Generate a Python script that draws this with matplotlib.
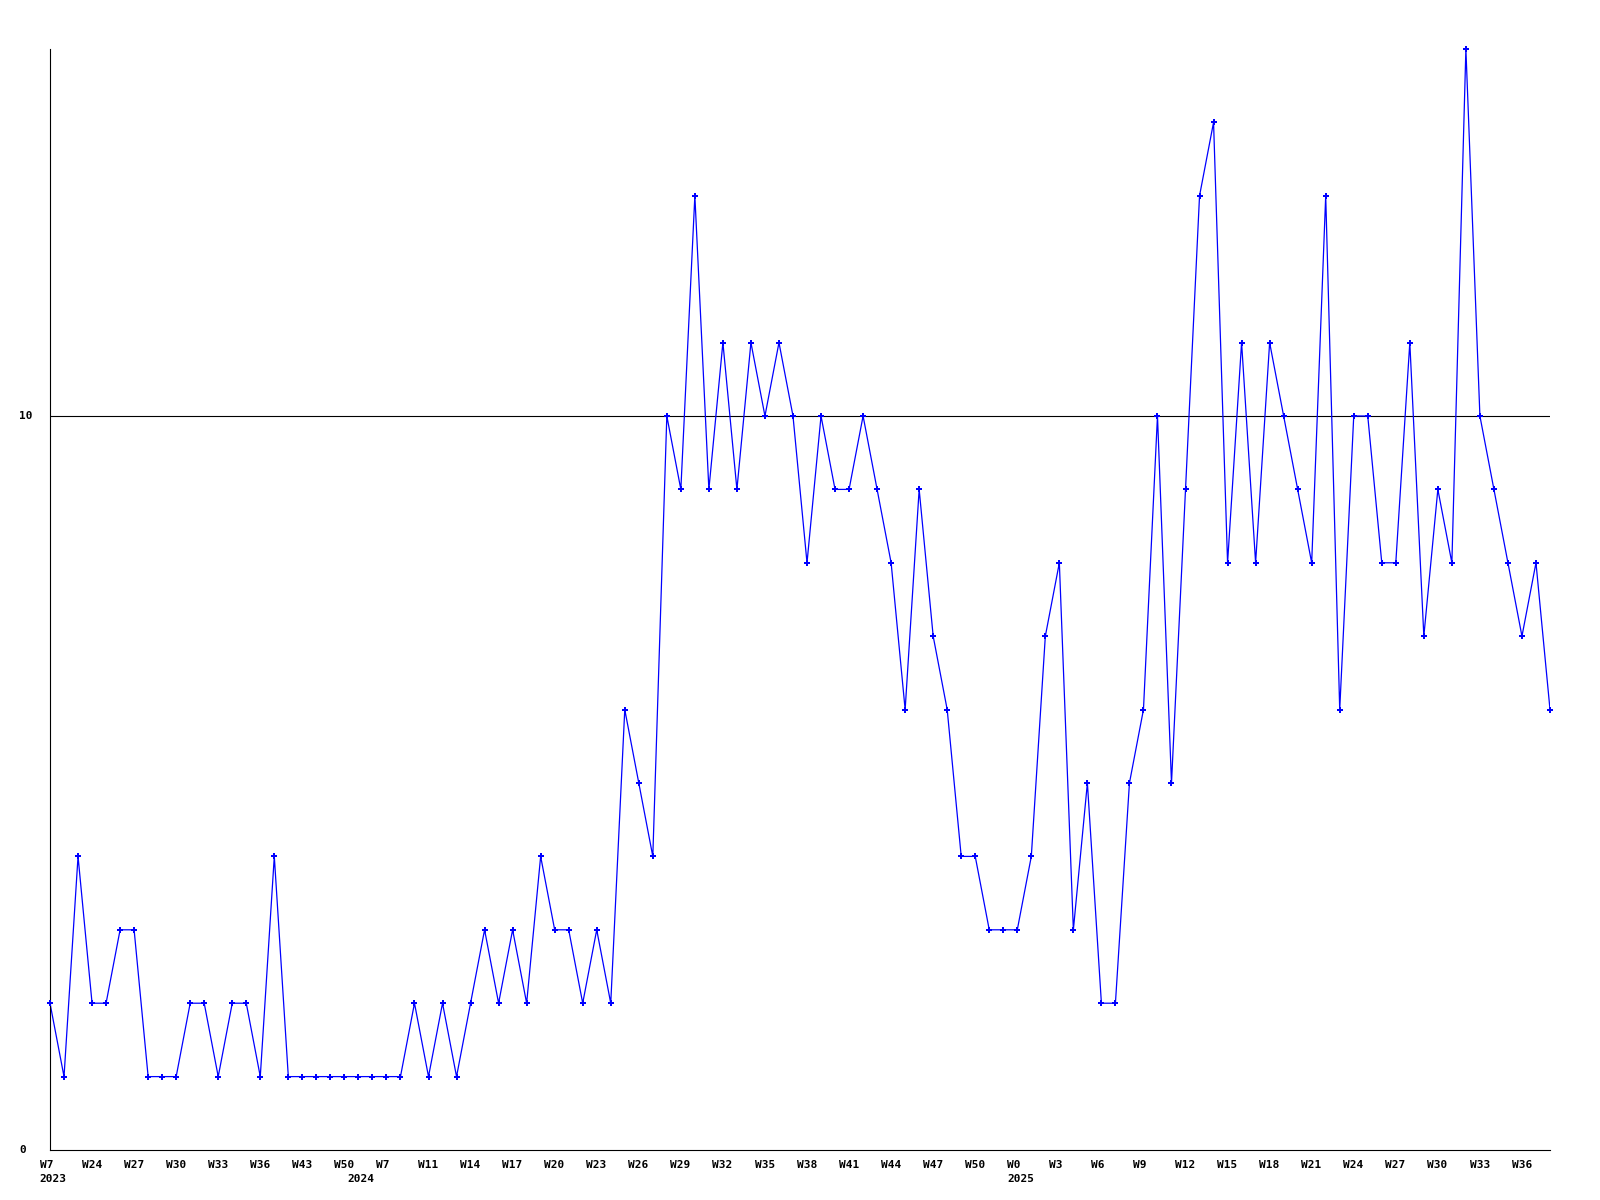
import matplotlib
import matplotlib.pyplot as plt

matplotlib.use('Agg')

# weekly values, one per week from W7 2023 to the last week shown
values = [2, 1, 4, 2, 2, 3, 3, 1, 1, 1, 2, 2, 1, 2, 2, 1, 4,
          1, 1, 1, 1, 1, 1, 1, 1, 1,
          2, 1, 2, 1, 2, 3, 2, 3, 2, 4, 3, 3, 2, 3, 2, 6, 5, 4,
          10, 9, 13, 9, 11, 9, 11, 10, 11, 10, 8, 10, 9, 9, 10, 9, 8, 6,
          9, 7, 6, 4, 4, 3, 3, 3, 4, 7, 8, 3, 5, 2, 2, 5, 6, 10, 5, 9,
          13, 14, 8, 11, 8, 11, 10, 9, 8, 13, 6, 10, 10, 8, 8, 11, 7, 9,
          8, 15, 10, 9, 8, 7, 8, 6]

# one label every third week
week_labels = ['W7', 'W24', 'W27', 'W30', 'W33', 'W36', 'W43', 'W50', 'W7',
               'W11', 'W14', 'W17', 'W20', 'W23', 'W26', 'W29', 'W32', 'W35',
               'W38', 'W41', 'W44', 'W47', 'W50', 'W0', 'W3', 'W6', 'W9',
               'W12', 'W15', 'W18', 'W21', 'W24', 'W27', 'W30', 'W33', 'W36']
year_labels = {0: '2023', 8: '2024', 23: '2025'}
y_labels = [0, 10]
ref_level = 10

fig = plt.figure(figsize=(16, 12), dpi=100)
ax = fig.add_axes([50 / 1600, 50 / 1200, 1500 / 1600, 1101 / 1200])

x = list(range(len(values)))
ax.axhline(ref_level, color='black', lw=0.8, zorder=1)
ax.plot(x, values, color='#0000ff', lw=0.9, zorder=2)
ax.plot(x, values, ls='none', color='#0000ff', marker='P', ms=4.5, mew=0,
        zorder=3, clip_on=False)

ax.set_xlim(0, len(values) - 1)
ax.set_ylim(0, 15)
ax.set_xticks([])
ax.set_yticks([])
for side in ['top', 'right']:
    ax.spines[side].set_visible(False)
for side in ['left', 'bottom']:
    ax.spines[side].set_linewidth(0.8)
    ax.spines[side].set_color('black')

font = dict(family='DejaVu Sans Mono', weight='bold', size=8)

for k, lab in enumerate(week_labels):
    ax.annotate(lab, xy=(3 * k, 0), xycoords=('data', 'axes fraction'),
                xytext=(-10.4, -9.6), textcoords='offset pixels',
                ha='left', va='top', **font)
    if k in year_labels:
        dx = -10.4 if k != 8 else -38.7
        ax.annotate(year_labels[k], xy=(3 * k, 0), xycoords=('data', 'axes fraction'),
                    xytext=(dx, -24), textcoords='offset pixels',
                    ha='left', va='top', **font)

for v in y_labels:
    ax.annotate(str(v), xy=(0, v), xycoords=('axes fraction', 'data'),
                xytext=(-30.7, 0), textcoords='offset pixels',
                ha='left', va='center', **font)

fig.savefig('out.png', dpi=100)
